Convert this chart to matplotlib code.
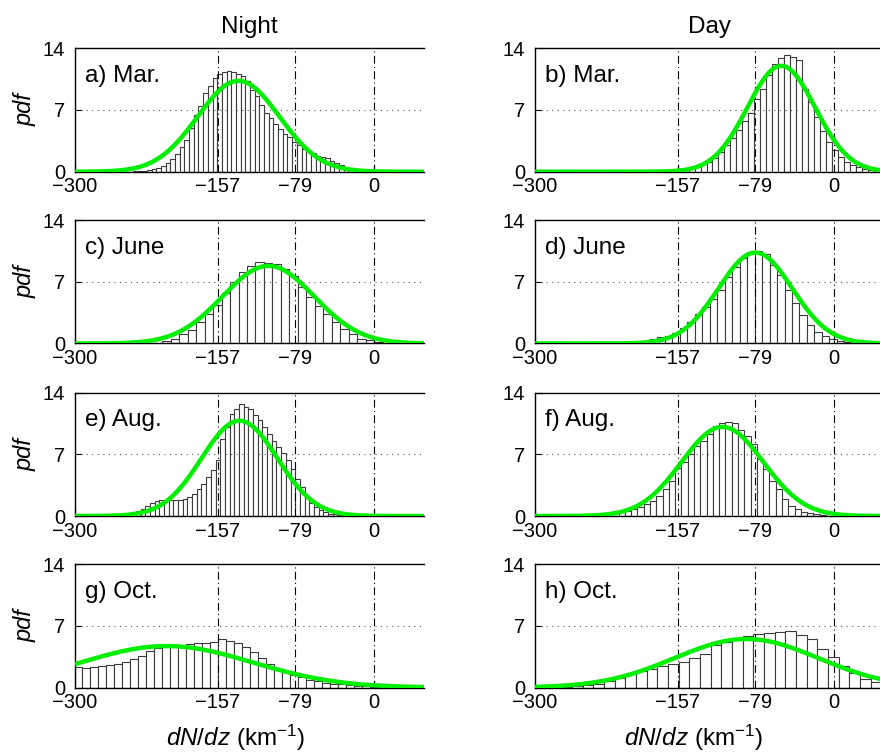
import numpy as np
import matplotlib
matplotlib.use("Agg")
import matplotlib.pyplot as plt

plt.rcParams['font.family'] = ['Liberation Sans', 'DejaVu Sans']
plt.rcParams['mathtext.fontset'] = 'custom'
plt.rcParams['mathtext.rm'] = 'Liberation Sans'
plt.rcParams['mathtext.it'] = 'Liberation Sans:italic'

# axis settings
x_limits = (-300, 50)
x_ticks = [-300, -157, -79, 0]
x_ticklabels = ['\u2212300', '\u2212157', '\u221279', '0']
y_ticks = [0, 7, 14]
ref_lines = [-157, -79, 0]
column_titles = ['Night', 'Day']

# histograms: first bin left edge, bin width, bin heights (pdf)
mar_night_start, mar_night_width = -242.0, 4.7
mar_night_pdf = [0.03, 0.05, 0.1, 0.15, 0.25, 0.4, 0.6, 1.0, 1.4, 2.0,
                 2.8, 3.6, 4.9, 6.4, 7.5, 8.9, 9.7, 10.6, 11.1, 11.3,
                 11.4, 11.3, 11.1, 10.8, 10.3, 9.3, 8.6, 7.6, 6.7, 6.1,
                 5.4, 4.8, 4.3, 3.9, 3.4, 3.0, 2.6, 2.35, 2.1, 1.8,
                 1.65, 1.5, 1.2, 0.95, 0.75, 0.55, 0.35, 0.2, 0.12, 0.05]

mar_day_start, mar_day_width = -158.0, 6.0
mar_day_pdf = [0.2, 0.3, 0.45, 0.6, 0.85, 1.15, 1.6, 2.2, 3.0, 3.8,
               4.7, 5.7, 6.6, 8.2, 9.4, 11.0, 12.2, 12.9, 13.2, 13.0,
               12.7, 9.4, 7.9, 6.2, 4.6, 3.4, 2.5, 1.7, 1.1, 0.75,
               0.5, 0.3, 0.2, 0.1]

jun_night_start, jun_night_width = -212.5, 8.5
jun_night_pdf = [0.25, 0.55, 1.05, 1.5, 2.45, 3.4, 4.35, 5.7, 7.0, 8.1,
                 8.8, 9.2, 9.15, 9.0, 8.4, 7.6, 6.35, 5.3, 4.3, 3.3,
                 2.45, 1.7, 1.05, 0.55, 0.4, 0.2, 0.1]

jun_day_start, jun_day_width = -199.75, 7.5
jun_day_pdf = [0.15, 0.3, 0.55, 0.75, 0.85, 1.2, 1.8, 2.45, 3.3, 4.15,
               5.1, 6.05, 7.5, 8.7, 9.7, 10.4, 10.5, 10.1, 8.9, 7.75,
               6.05, 4.55, 3.2, 2.1, 1.3, 0.85, 0.5, 0.3, 0.2, 0.1]

aug_night_start, aug_night_width = -253.05, 4.7
aug_night_pdf = [0.1, 0.2, 0.4, 0.55, 0.85, 1.15, 1.45, 1.65, 1.8, 1.85,
                 1.85, 1.85, 1.85, 1.95, 2.15, 2.5, 3.05, 3.6, 4.4, 5.2,
                 6.3, 8.7, 10.1, 11.6, 12.1, 12.7, 12.4, 12.1, 11.5, 10.9,
                 10.1, 9.3, 8.5, 7.8, 7.1, 6.3, 5.35, 4.2, 3.25, 2.3,
                 1.5, 1.0, 0.65, 0.4, 0.25, 0.2, 0.1, 0.05]

aug_day_start, aug_day_width = -216.15, 6.3
aug_day_pdf = [0.45, 0.55, 0.75, 1.0, 1.35, 1.7, 2.3, 3.05, 4.0, 5.45,
               6.1, 7.0, 7.9, 8.5, 9.35, 10.2, 10.55, 10.7, 10.55, 9.8,
               9.05, 8.2, 6.5, 5.35, 4.0, 3.05, 1.9, 1.15, 0.75, 0.45,
               0.3, 0.2, 0.1, 0.05]

oct_night_start, oct_night_width = -300.5, 8.0
oct_night_pdf = [2.27, 2.23, 2.27, 2.4, 2.55, 2.65, 2.9, 3.2, 3.55, 4.15,
                 4.45, 4.55, 4.6, 4.75, 4.9, 5.05, 5.05, 5.2, 5.45, 5.25,
                 5.0, 4.6, 4.05, 3.3, 2.65, 2.15, 1.8, 1.4, 1.15, 0.9,
                 0.75, 0.55, 0.45, 0.38, 0.25, 0.2, 0.15, 0.1, 0.07]

oct_day_start, oct_day_width = -295.0, 10.7
oct_day_pdf = [0.05, 0.08, 0.1, 0.15, 0.25, 0.4, 0.75, 1.1, 1.5, 1.85,
               2.15, 2.4, 2.65, 2.9, 3.4, 3.85, 4.8, 5.2, 5.5, 5.8,
               6.1, 6.2, 6.3, 6.45, 5.95, 5.45, 4.4, 3.5, 2.4, 1.6,
               1.0, 0.65, 0.4]

# Gaussian fits: (mean, standard deviation, peak pdf)
mar_night_fit = (-136, 41, 10.3)
mar_day_fit = (-53, 34, 12.0)
jun_night_fit = (-106, 46, 8.8)
jun_day_fit = (-79, 37, 10.3)
aug_night_fit = (-135, 38, 10.8)
aug_day_fit = (-112, 41, 10.1)
oct_night_fit = (-208, 86, 4.7)
oct_day_fit = (-88, 72, 5.5)

panels = [
    ('a) Mar.', mar_night_start, mar_night_width, mar_night_pdf, mar_night_fit),
    ('b) Mar.', mar_day_start, mar_day_width, mar_day_pdf, mar_day_fit),
    ('c) June', jun_night_start, jun_night_width, jun_night_pdf, jun_night_fit),
    ('d) June', jun_day_start, jun_day_width, jun_day_pdf, jun_day_fit),
    ('e) Aug.', aug_night_start, aug_night_width, aug_night_pdf, aug_night_fit),
    ('f) Aug.', aug_day_start, aug_day_width, aug_day_pdf, aug_day_fit),
    ('g) Oct.', oct_night_start, oct_night_width, oct_night_pdf, oct_night_fit),
    ('h) Oct.', oct_day_start, oct_day_width, oct_day_pdf, oct_day_fit),
]

W, H = 880, 756
fig = plt.figure(figsize=(W / 100, H / 100), dpi=100)

col_left = [75, 535]
ax_w = 349
row_bottom = [171.7, 343.5, 516.0, 687.5]
ax_h = 123.5

green = '#00ee00'
xfit = np.linspace(x_limits[0], x_limits[1], 600)

for i, (label, start, width, pdf, fit) in enumerate(panels):
    row, col = divmod(i, 2)
    left = col_left[col]
    ax = fig.add_axes([left / W, 1 - row_bottom[row] / H, ax_w / W, ax_h / H])
    edges = start + width * np.arange(len(pdf))
    ax.bar(edges, pdf, width=width, align='edge', facecolor='white',
           edgecolor='#3c3c3c', linewidth=0.8, zorder=2)
    for v in ref_lines:
        ax.axvline(v, color='black', linestyle=(0, (7, 3, 1, 3)),
                   linewidth=0.8, zorder=3)
    ax.axhline(7, color='#555555', linestyle=(0, (1, 4)), linewidth=0.8,
               zorder=3)
    mu, sigma, peak = fit
    ax.plot(xfit, peak * np.exp(-(xfit - mu) ** 2 / (2 * sigma ** 2)),
            color=green, linewidth=3.2, zorder=4, solid_capstyle='butt')
    ax.set_xlim(*x_limits)
    ax.set_ylim(0, 14)
    ax.set_xticks(x_ticks)
    ax.set_xticklabels(x_ticklabels)
    ax.set_yticks(y_ticks)
    ax.tick_params(direction='in', length=5, width=0.8, labelsize=14.5,
                   colors='black')
    ax.tick_params(axis='x', pad=4)
    ax.tick_params(axis='y', pad=7)
    ax.spines['right'].set_visible(False)
    for s in ('left', 'top', 'bottom'):
        ax.spines[s].set_linewidth(1.0)
    ax.text(10 / ax_w, 0.726, label, transform=ax.transAxes, fontsize=17.5,
            ha='left', va='baseline', zorder=5)
    if col == 0:
        yc = 1 - (row_bottom[row] - ax_h / 2) / H
        fig.text(25 / W, yc, 'pdf', rotation=90, style='italic',
                 fontsize=17, ha='center', va='center')

# column titles
fig.text(249.5 / W, 1 - 33 / H, column_titles[0], fontsize=17.5,
         ha='center', va='baseline')
fig.text(710 / W, 1 - 33 / H, column_titles[1], fontsize=17.5,
         ha='center', va='baseline')

# shared x labels
for xc in (236, 694):
    fig.text(xc / W, 1 - 738 / H, r'$dN/dz$ (km$^{\mathregular{-1}}$)',
             fontsize=17.5, ha='center', va='center')

fig.savefig('out.png', dpi=100)
